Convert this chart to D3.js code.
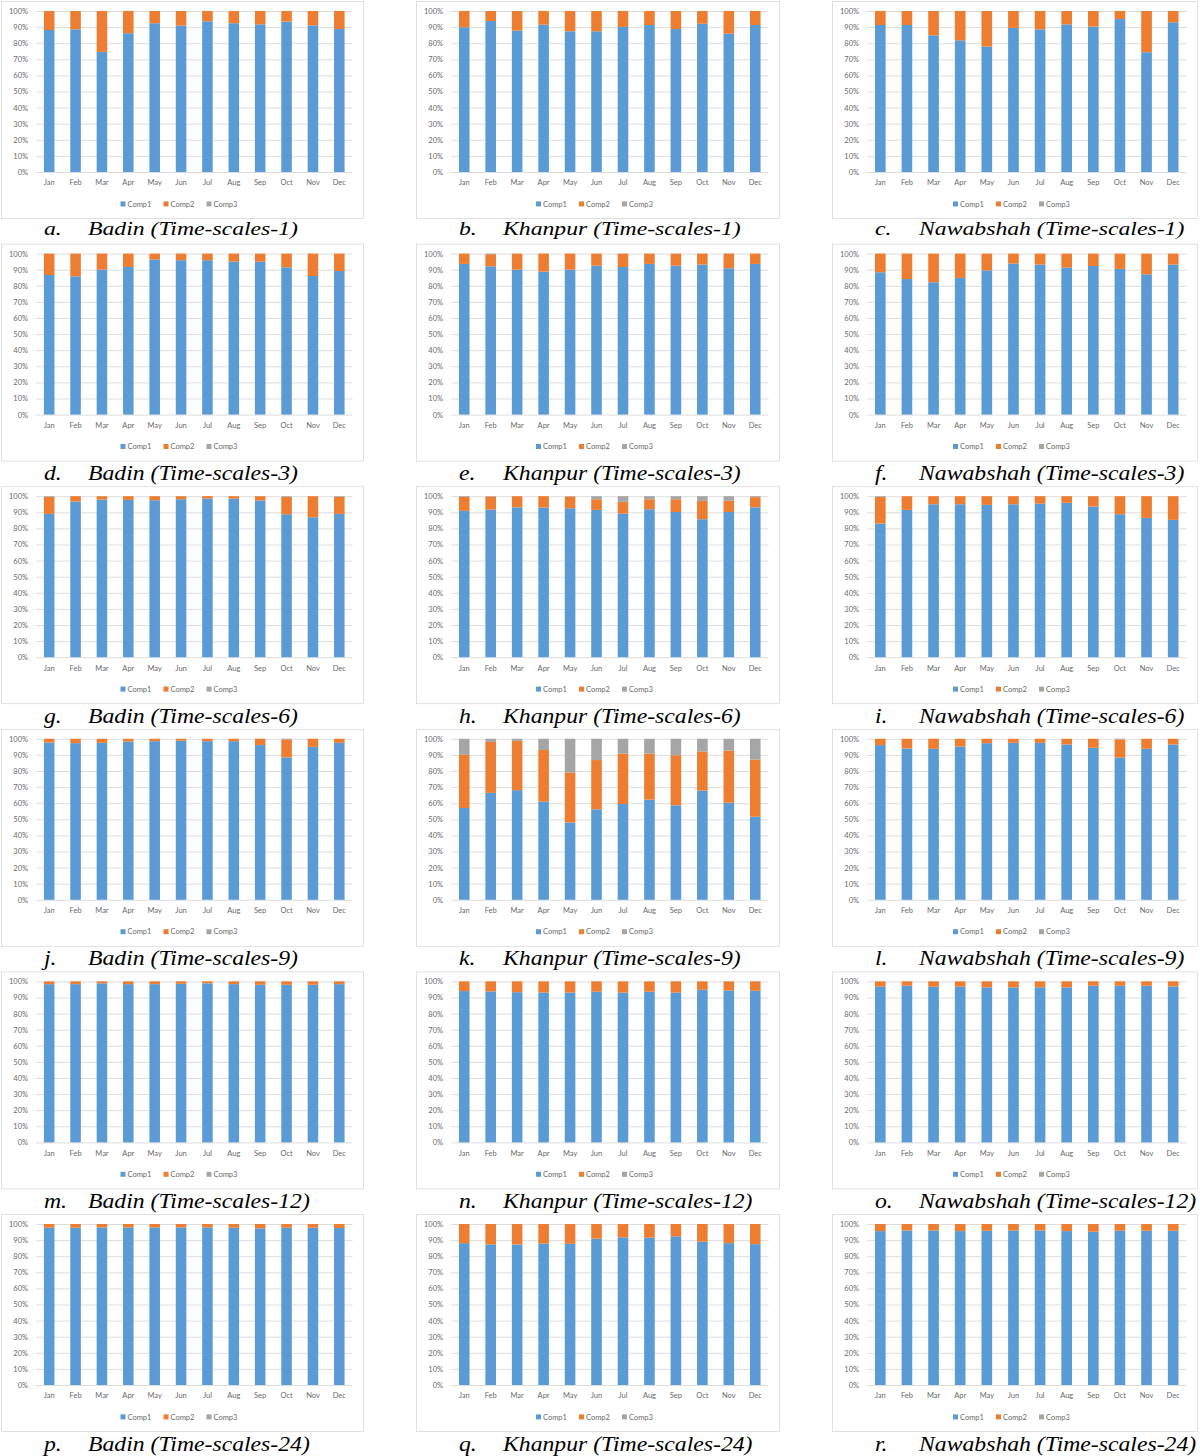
<!DOCTYPE html>
<html><head><meta charset="utf-8">
<script src="https://cdn.jsdelivr.net/npm/d3@7"></script>
<style>
body{margin:0;background:#fff;}
svg{display:block;}
</style>
</head><body>
<svg id="chart" width="1200" height="1456"></svg>
<script>
// ---------------- data ----------------
const months = ["Jan","Feb","Mar","Apr","May","Jun","Jul","Aug","Sep","Oct","Nov","Dec"];
const seriesNames = ["Comp1","Comp2","Comp3"];
const seriesColors = ["#5b9bd5","#ed7d31","#a5a5a5"];
const yTickValues = [0,0.1,0.2,0.3,0.4,0.5,0.6,0.7,0.8,0.9,1.0];
const noComp3 = [0,0,0,0,0,0,0,0,0,0,0,0];

// a. Badin (Time-scales-1)
const badin1Comp1 = [88.2,88.6,74.6,86.2,92.4,90.9,93.6,92.4,91.7,93.4,91.1,88.8];
const badin1Comp2 = [11.8,11.4,25.4,13.8,7.6,9.1,6.4,7.6,8.3,6.6,8.9,11.2];
// b. Khanpur (Time-scales-1)
const khanpur1Comp1 = [89.9,93.8,87.8,91.5,87.4,87.4,90.1,91.3,88.8,92.1,85.9,91.3];
const khanpur1Comp2 = [10.1,6.2,12.2,8.5,12.6,12.6,9.9,8.7,11.2,7.9,14.1,8.7];
// c. Nawabshah (Time-scales-1)
const nawab1Comp1 = [91.3,91.3,84.9,81.8,77.9,89.5,88.6,91.7,90.3,95.0,74.4,93.0];
const nawab1Comp2 = [8.7,8.7,15.1,18.2,22.1,10.5,11.4,8.3,9.7,5.0,25.6,7.0];
// d. Badin (Time-scales-3)
const badin3Comp1 = [86.7,85.9,90.0,91.7,96.3,95.9,95.9,95.0,95.0,91.5,86.1,89.2];
const badin3Comp2 = [13.3,14.1,10.0,8.3,3.7,4.1,4.1,5.0,5.0,8.5,13.9,10.8];
// e. Khanpur (Time-scales-3)
const khanpur3Comp1 = [93.6,92.1,90.0,88.8,90.0,92.5,91.7,93.6,92.5,93.2,90.9,93.6];
const khanpur3Comp2 = [6.4,7.5,10.0,11.2,10.0,7.5,8.3,6.4,7.5,6.8,9.1,6.4];
const khanpur3Comp3 = [0,0.4,0,0,0,0,0,0,0,0,0,0];
// f. Nawabshah (Time-scales-3)
const nawab3Comp1 = [88.4,84.2,82.2,84.9,89.6,93.8,93.2,91.3,92.3,90.5,87.1,93.2];
const nawab3Comp2 = [11.6,15.8,17.8,15.1,10.4,6.2,6.8,8.7,7.7,9.5,12.9,6.8];
// g. Badin (Time-scales-6)
const badin6Comp1 = [89.0,96.7,97.9,97.7,97.5,98.1,98.5,98.5,97.3,88.8,86.9,89.0];
const badin6Comp2 = [10.6,3.3,2.1,2.3,2.5,1.9,1.5,1.5,2.7,10.8,13.1,10.6];
const badin6Comp3 = [0.4,0,0,0,0,0,0,0,0,0.4,0,0.4];
// h. Khanpur (Time-scales-6)
const khanpur6Comp1 = [90.9,91.7,93.1,92.9,92.5,91.5,89.2,91.9,90.2,85.7,90.2,93.1];
const khanpur6Comp2 = [8.7,8.1,6.9,7.1,7.3,6.6,7.3,6.2,7.9,11.4,7.1,6.3];
const khanpur6Comp3 = [0.4,0.2,0,0,0.2,1.9,3.5,1.9,1.9,2.9,2.7,0.6];
// i. Nawabshah (Time-scales-6)
const nawab6Comp1 = [83.0,91.5,95.0,95.0,94.6,95.0,95.4,95.9,93.6,88.8,86.5,85.3];
const nawab6Comp2 = [16.6,8.5,5.0,5.0,5.4,5.0,4.6,4.1,6.4,11.2,13.5,14.7];
const nawab6Comp3 = [0.4,0,0,0,0,0,0,0,0,0,0,0];
// j. Badin (Time-scales-9)
const badin9Comp1 = [97.7,97.3,97.5,98.3,98.5,98.8,98.5,98.5,96.1,88.4,95.0,97.5];
const badin9Comp2 = [2.3,2.7,2.5,1.7,1.5,1.2,1.5,1.5,3.9,11.2,5.0,2.5];
const badin9Comp3 = [0,0,0,0,0,0,0,0,0,0.4,0,0];
// k. Khanpur (Time-scales-9)
const khanpur9Comp1 = [57.0,66.4,68.1,61.0,48.0,56.2,59.5,62.2,58.7,67.8,60.3,51.6];
const khanpur9Comp2 = [33.0,31.7,30.6,32.1,31.1,30.6,31.3,28.6,31.1,24.3,32.4,35.5];
const khanpur9Comp3 = [10.0,1.9,1.3,6.9,20.9,13.2,9.2,9.2,10.2,7.9,7.3,12.9];
// l. Nawabshah (Time-scales-9)
const nawab9Comp1 = [96.1,94.0,93.8,95.2,97.3,97.5,97.5,96.5,94.4,88.4,93.8,96.5];
const nawab9Comp2 = [3.9,6.0,6.2,4.8,2.7,2.5,2.5,3.5,5.6,11.2,6.2,3.5];
const nawab9Comp3 = [0,0,0,0,0,0,0,0,0,0.4,0,0];
// m. Badin (Time-scales-12)
const badin12Comp1 = [98.3,98.3,98.8,98.3,98.3,98.5,98.8,98.3,97.9,97.9,97.9,98.3];
const badin12Comp2 = [1.7,1.7,1.2,1.7,1.7,1.5,1.2,1.7,2.1,2.1,2.1,1.7];
// n. Khanpur (Time-scales-12)
const khanpur12Comp1 = [94.0,93.8,93.3,93.1,93.1,93.6,93.1,93.6,93.1,94.8,94.4,94.2];
const khanpur12Comp2 = [6.0,6.2,6.7,6.9,6.9,6.4,6.9,6.4,6.9,5.2,5.6,5.8];
// o. Nawabshah (Time-scales-12)
const nawab12Comp1 = [96.7,97.3,96.7,96.7,96.3,96.3,96.3,96.3,97.3,97.3,97.3,96.9];
const nawab12Comp2 = [3.3,2.7,3.3,3.3,3.7,3.7,3.7,3.7,2.7,2.7,2.7,3.1];
// p. Badin (Time-scales-24)
const badin24Comp1 = [97.7,97.7,97.9,97.9,97.9,97.9,97.9,97.7,97.3,97.7,97.7,97.5];
const badin24Comp2 = [2.3,2.3,2.1,2.1,2.1,2.1,2.1,2.3,2.7,2.3,2.3,2.5];
// q. Khanpur (Time-scales-24)
const khanpur24Comp1 = [88.1,87.3,87.3,87.9,87.7,90.9,91.7,91.5,92.3,89.0,88.1,87.5];
const khanpur24Comp2 = [11.9,12.7,12.7,12.1,12.3,9.1,8.3,8.5,7.7,11.0,11.9,12.5];
// r. Nawabshah (Time-scales-24)
const nawab24Comp1 = [95.6,96.0,96.0,95.6,95.8,96.0,96.0,95.6,95.2,95.8,95.8,95.8];
const nawab24Comp2 = [4.4,4.0,4.0,4.4,4.2,4.0,4.0,4.4,4.8,4.2,4.2,4.2];

const panelLetters = ["a.","b.","c.","d.","e.","f.","g.","h.","i.","j.","k.","l.","m.","n.","o.","p.","q.","r."];
const panelTitles = [
  "Badin (Time-scales-1)","Khanpur (Time-scales-1)","Nawabshah (Time-scales-1)",
  "Badin (Time-scales-3)","Khanpur (Time-scales-3)","Nawabshah (Time-scales-3)",
  "Badin (Time-scales-6)","Khanpur (Time-scales-6)","Nawabshah (Time-scales-6)",
  "Badin (Time-scales-9)","Khanpur (Time-scales-9)","Nawabshah (Time-scales-9)",
  "Badin (Time-scales-12)","Khanpur (Time-scales-12)","Nawabshah (Time-scales-12)",
  "Badin (Time-scales-24)","Khanpur (Time-scales-24)","Nawabshah (Time-scales-24)"
];
const panelSeries = [
  [badin1Comp1,badin1Comp2,noComp3],[khanpur1Comp1,khanpur1Comp2,noComp3],[nawab1Comp1,nawab1Comp2,noComp3],
  [badin3Comp1,badin3Comp2,noComp3],[khanpur3Comp1,khanpur3Comp2,khanpur3Comp3],[nawab3Comp1,nawab3Comp2,noComp3],
  [badin6Comp1,badin6Comp2,badin6Comp3],[khanpur6Comp1,khanpur6Comp2,khanpur6Comp3],[nawab6Comp1,nawab6Comp2,nawab6Comp3],
  [badin9Comp1,badin9Comp2,badin9Comp3],[khanpur9Comp1,khanpur9Comp2,khanpur9Comp3],[nawab9Comp1,nawab9Comp2,nawab9Comp3],
  [badin12Comp1,badin12Comp2,noComp3],[khanpur12Comp1,khanpur12Comp2,noComp3],[nawab12Comp1,nawab12Comp2,noComp3],
  [badin24Comp1,badin24Comp2,noComp3],[khanpur24Comp1,khanpur24Comp2,noComp3],[nawab24Comp1,nawab24Comp2,noComp3]
];

// ---------------- layout ----------------
const svg = d3.select("#chart");
const colBoxes = [[1,363],[416,779],[832,1197]];
const firstTop = 11, rowPitch = 242.6, plotH = 161;
const axisFont = "Lato, 'Open Sans', sans-serif";
const textColor = "#6a6a6a";
const gridColor = "#d9d9d9";

panelSeries.forEach((ser, i) => {
  const col = i % 3, row = Math.floor(i / 3);
  const [bl, br] = colBoxes[col];
  const y100 = firstTop + row * rowPitch;
  const y0 = y100 + plotH;
  const boxTop = y100 - 10, boxBot = y0 + 46;
  const pl = bl + 35, pr = br - 10.5;

  const g = svg.append("g");
  g.append("rect").attr("x", bl + 0.5).attr("y", boxTop + 0.5)
    .attr("width", br - bl).attr("height", boxBot - boxTop)
    .attr("fill", "#fff").attr("stroke", gridColor).attr("stroke-width", 0.8);

  const x = d3.scaleBand().domain(months).range([pl, pr]).paddingInner(0.6).paddingOuter(0.3);
  const y = d3.scaleLinear().domain([0, 1]).range([y0, y100]);

  // gridlines + y labels
  const yAx = g.append("g").attr("transform", `translate(${pl},0)`)
    .call(d3.axisLeft(y).tickValues(yTickValues).tickSize(-(pr - pl)).tickPadding(8).tickFormat(d3.format(".0%")));
  yAx.select(".domain").remove();
  yAx.selectAll(".tick line").attr("stroke", gridColor).attr("stroke-width", 0.9);
  yAx.selectAll(".tick text").attr("fill", textColor).style("font-family", axisFont).style("font-size", "7.5px");

  // x labels
  const xAx = g.append("g").attr("transform", `translate(0,${y0})`)
    .call(d3.axisBottom(x).tickSize(0).tickPadding(8));
  xAx.select(".domain").remove();
  xAx.selectAll(".tick text").attr("fill", textColor).style("font-family", axisFont).style("font-size", "7.5px");

  // stacked bars
  const rows = months.map((m, j) => ({month: m, Comp1: ser[0][j], Comp2: ser[1][j], Comp3: ser[2][j]}));
  const stacked = d3.stack().keys(seriesNames).offset(d3.stackOffsetExpand)(rows);
  g.append("g").selectAll("g").data(stacked).join("g")
    .attr("fill", (d, k) => seriesColors[k])
    .selectAll("rect").data(d => d).join("rect")
    .attr("x", d => x(d.data.month))
    .attr("width", x.bandwidth())
    .attr("y", d => y(d[1]))
    .attr("height", d => Math.max(0, y(d[0]) - y(d[1])));

  // legend
  const legendItemW = 43;
  const lcx = (bl + br) / 2 + 1;
  const lx0 = lcx - legendItemW * 1.5 + 2;
  const lg = g.append("g").attr("transform", `translate(${lx0},${y0 + 32})`);
  seriesNames.forEach((s, k) => {
    const it = lg.append("g").attr("transform", `translate(${k * legendItemW},0)`);
    it.append("rect").attr("x", 0).attr("y", -2.6).attr("width", 5).attr("height", 5).attr("fill", seriesColors[k]);
    it.append("text").attr("x", 7).attr("y", 0).attr("dy", "0.35em")
      .attr("fill", textColor).style("font-family", axisFont).style("font-size", "7.5px").text(s);
  });

  // caption
  const capSize = row === 0 ? 19 : 22;
  const capBase = boxBot + (row === 0 ? 16.5 : 19.5);
  const hScale = 23.7 / capSize;
  const capFont = "'Liberation Serif', 'Times New Roman', serif";
  const t1 = svg.append("text").attr("x", bl + 43).attr("y", capBase)
    .style("font-family", capFont).style("font-style", "italic").style("font-size", capSize + "px")
    .attr("fill", "#000").text(panelLetters[i]);
  const t2 = svg.append("text").attr("x", bl + 87).attr("y", capBase)
    .style("font-family", capFont).style("font-style", "italic").style("font-size", capSize + "px")
    .attr("fill", "#000").text(panelTitles[i]);
  [t1, t2].forEach(t => {
    const w = t.node().getComputedTextLength();
    t.attr("textLength", w * hScale).attr("lengthAdjust", "spacingAndGlyphs");
  });
});
</script>
</body></html>
